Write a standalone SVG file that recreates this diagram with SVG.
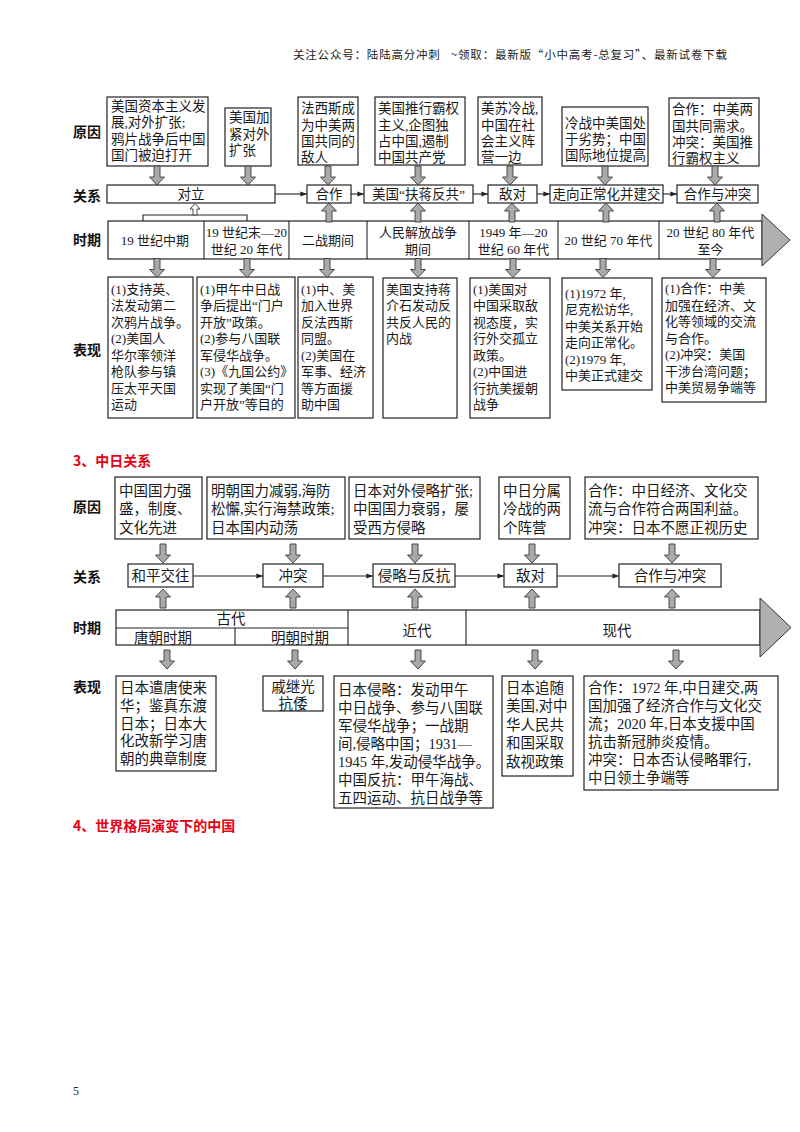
<svg xmlns="http://www.w3.org/2000/svg" width="800" height="1132" viewBox="0 0 800 1132">
<defs>
<style>
.bx{fill:#fff;stroke:#222;stroke-width:1.2}
.t{font-family:"Liberation Serif","Noto Sans CJK SC",serif;fill:#1a1a1a}
.s2{font-size:13.5px}
.s2b{font-size:13px}
.s3{font-size:14.5px}
.lb{font-family:"Noto Sans CJK SC",sans-serif;font-weight:bold;font-size:14px;fill:#111}
.ttl{font-family:"Noto Sans CJK SC",sans-serif;font-weight:bold;font-size:14px;fill:#e60012}
.ln{stroke:#222;stroke-width:1.1;fill:none}
.ba{fill:#a9a9a9;stroke:#3a3a3a;stroke-width:0.9}
.c{text-anchor:middle}
.tri{fill:#b0b0b0;stroke:#333;stroke-width:1}
</style>
<path id="dn" d="M-3,0H3V11H7.5L0,19L-7.5,11H-3Z"/>
<path id="up" d="M-3,19H3V8H7.5L0,0L-7.5,8H-3Z"/>
<marker id="ah" viewBox="0 0 8 8" refX="8" refY="4" markerWidth="6" markerHeight="6" orient="auto"><path d="M0,1L8,4L0,7Z" fill="#222"/></marker>
</defs>
<rect width="800" height="1132" fill="#fff"/>

<text x="293" y="59" font-family="Noto Sans CJK SC,sans-serif" font-size="11.5" fill="#222" textLength="434" lengthAdjust="spacing" xml:space="preserve">关注公众号：陆陆高分冲刺   ~领取：最新版“小中高考-总复习”、最新试卷下载</text>

<!-- Section 2 row labels -->
<g id="us-labels">
<text class="lb" x="73" y="137">原因</text>
<text class="lb" x="73" y="201">关系</text>
<text class="lb" x="73" y="245">时期</text>
<text class="lb" x="73" y="355">表现</text>
</g>

<!-- Section 2 causes -->
<g id="us-cause-1"><rect class="bx" x="107" y="97" width="101" height="69"/>
<text class="t s2"><tspan x="111" y="110.5">美国资本主义发</tspan><tspan x="111" y="127">展,对外扩张;</tspan><tspan x="111" y="143.5">鸦片战争后中国</tspan><tspan x="111" y="160">国门被迫打开</tspan></text></g>
<g id="us-cause-2"><rect class="bx" x="225" y="108" width="46" height="58"/>
<text class="t s2"><tspan x="229" y="122">美国加</tspan><tspan x="229" y="138.5">紧对外</tspan><tspan x="229" y="155">扩张</tspan></text></g>
<g id="us-cause-3"><rect class="bx" x="298" y="97" width="60" height="68"/>
<text class="t s2"><tspan x="301" y="113">法西斯成</tspan><tspan x="301" y="129.5">为中美两</tspan><tspan x="301" y="146">国共同的</tspan><tspan x="301" y="162">敌人</tspan></text></g>
<g id="us-cause-4"><rect class="bx" x="375" y="97" width="90" height="68"/>
<text class="t s2"><tspan x="378" y="113">美国推行霸权</tspan><tspan x="378" y="129.5">主义,企图独</tspan><tspan x="378" y="146">占中国,遏制</tspan><tspan x="378" y="162">中国共产党</tspan></text></g>
<g id="us-cause-5"><rect class="bx" x="478" y="97" width="64" height="68"/>
<text class="t s2"><tspan x="481" y="113">美苏冷战,</tspan><tspan x="481" y="129.5">中国在社</tspan><tspan x="481" y="146">会主义阵</tspan><tspan x="481" y="162">营一边</tspan></text></g>
<g id="us-cause-6"><rect class="bx" x="562" y="107" width="86" height="59"/>
<text class="t s2"><tspan x="565" y="128">冷战中美国处</tspan><tspan x="565" y="144">于劣势；中国</tspan><tspan x="565" y="160">国际地位提高</tspan></text></g>
<g id="us-cause-7"><rect class="bx" x="669" y="98" width="90" height="68"/>
<text class="t s2"><tspan x="672" y="114">合作：中美两</tspan><tspan x="672" y="130.5">国共同需求。</tspan><tspan x="672" y="147">冲突：美国推</tspan><tspan x="672" y="163">行霸权主义</tspan></text></g>

<!-- Section 2 relations -->
<g id="us-rel-1"><rect class="bx" x="107" y="185" width="168" height="18"/><text class="t s2 c" x="191" y="199">对立</text></g>
<g id="us-rel-2"><rect class="bx" x="307" y="185" width="44" height="18"/><text class="t s2 c" x="329" y="199">合作</text></g>
<g id="us-rel-3"><rect class="bx" x="364" y="185" width="109" height="18"/><text class="t s2 c" x="418.5" y="199">美国“扶蒋反共”</text></g>
<g id="us-rel-4"><rect class="bx" x="488" y="185" width="49" height="18"/><text class="t s2 c" x="512.5" y="199">敌对</text></g>
<g id="us-rel-5"><rect class="bx" x="550" y="185" width="113" height="18"/><text class="t s2 c" x="606.5" y="199">走向正常化并建交</text></g>
<g id="us-rel-6"><rect class="bx" x="677" y="185" width="81" height="18"/><text class="t s2 c" x="717.5" y="199">合作与冲突</text></g>

<!-- Section 2 timeline -->
<g id="us-timeline">
<rect class="bx" x="108" y="221" width="654" height="38"/>
<polygon class="tri" points="762,214 790,240 762,266"/>
<path class="ln" d="M204,221V259M289,221V259M367,221V259M469,221V259M558,221V259M659,221V259"/>
<text class="t s2b c" x="155" y="244.5">19 世纪中期</text>
<text class="t s2b c"><tspan x="246.5" y="236.5">19 世纪末—20</tspan><tspan x="246.5" y="253.5">世纪 20 年代</tspan></text>
<text class="t s2b c" x="328" y="244.5">二战期间</text>
<text class="t s2b c"><tspan x="418" y="236.5">人民解放战争</tspan><tspan x="418" y="253.5">期间</tspan></text>
<text class="t s2b c"><tspan x="513.5" y="236.5">1949 年—20</tspan><tspan x="513.5" y="253.5">世纪 60 年代</tspan></text>
<text class="t s2b c" x="608.5" y="244.5">20 世纪 70 年代</text>
<text class="t s2b c"><tspan x="710.5" y="236.5">20 世纪 80 年代</tspan><tspan x="710.5" y="253.5">至今</tspan></text>
</g>

<!-- Section 2 manifestations -->
<g id="us-show-1"><rect class="bx" x="108" y="277" width="85" height="141"/>
<text class="t s2b"><tspan x="111" y="293.5">(1)支持英、</tspan><tspan x="111" y="310">法发动第二</tspan><tspan x="111" y="326.5">次鸦片战争。</tspan><tspan x="111" y="343">(2)美国人</tspan><tspan x="111" y="359.5">华尔率领洋</tspan><tspan x="111" y="376">枪队参与镇</tspan><tspan x="111" y="392.5">压太平天国</tspan><tspan x="111" y="409">运动</tspan></text></g>
<g id="us-show-2"><rect class="bx" x="197" y="277" width="98" height="141"/>
<text class="t s2b"><tspan x="200" y="293.5">(1)甲午中日战</tspan><tspan x="200" y="310">争后提出“门户</tspan><tspan x="200" y="326.5">开放”政策。</tspan><tspan x="200" y="343">(2)参与八国联</tspan><tspan x="200" y="359.5">军侵华战争。</tspan><tspan x="200" y="376">(3)《九国公约》</tspan><tspan x="200" y="392.5">实现了美国“门</tspan><tspan x="200" y="409">户开放”等目的</tspan></text></g>
<g id="us-show-3"><rect class="bx" x="298" y="277" width="75" height="141"/>
<text class="t s2b"><tspan x="301" y="293.5">(1)中、美</tspan><tspan x="301" y="310">加入世界</tspan><tspan x="301" y="326.5">反法西斯</tspan><tspan x="301" y="343">同盟。</tspan><tspan x="301" y="359.5">(2)美国在</tspan><tspan x="301" y="376">军事、经济</tspan><tspan x="301" y="392.5">等方面援</tspan><tspan x="301" y="409">助中国</tspan></text></g>
<g id="us-show-4"><rect class="bx" x="383" y="278" width="74" height="140"/>
<text class="t s2b"><tspan x="386" y="293.5">美国支持蒋</tspan><tspan x="386" y="310">介石发动反</tspan><tspan x="386" y="326.5">共反人民的</tspan><tspan x="386" y="343">内战</tspan></text></g>
<g id="us-show-5"><rect class="bx" x="470" y="278" width="80" height="140"/>
<text class="t s2b"><tspan x="473" y="293.5">(1)美国对</tspan><tspan x="473" y="310">中国采取敌</tspan><tspan x="473" y="326.5">视态度，实</tspan><tspan x="473" y="343">行外交孤立</tspan><tspan x="473" y="359.5">政策。</tspan><tspan x="473" y="376">(2)中国进</tspan><tspan x="473" y="392.5">行抗美援朝</tspan><tspan x="473" y="409">战争</tspan></text></g>
<g id="us-show-6"><rect class="bx" x="562" y="278" width="90" height="112"/>
<text class="t s2b"><tspan x="565" y="297.5">(1)1972 年,</tspan><tspan x="565" y="314">尼克松访华,</tspan><tspan x="565" y="330.5">中美关系开始</tspan><tspan x="565" y="347">走向正常化。</tspan><tspan x="565" y="363.5">(2)1979 年,</tspan><tspan x="565" y="380">中美正式建交</tspan></text></g>
<g id="us-show-7"><rect class="bx" x="662" y="278" width="104" height="124"/>
<text class="t s2b"><tspan x="665" y="293">(1)合作：中美</tspan><tspan x="665" y="309.5">加强在经济、文</tspan><tspan x="665" y="326">化等领域的交流</tspan><tspan x="665" y="342.5">与合作。</tspan><tspan x="665" y="359">(2)冲突：美国</tspan><tspan x="665" y="375.5">干涉台湾问题；</tspan><tspan x="665" y="392">中美贸易争端等</tspan></text></g>

<!-- Section 2 connectors -->
<g id="us-connectors">
<g class="ba">
<use href="#dn" x="157" y="166"/><use href="#dn" x="248" y="166"/><use href="#dn" x="328" y="166"/><use href="#dn" x="418" y="166"/><use href="#dn" x="510" y="166"/><use href="#dn" x="605" y="166"/><use href="#dn" x="715" y="166"/>
<use href="#up" x="329" y="203"/><use href="#up" x="418" y="203"/><use href="#up" x="512" y="203"/><use href="#up" x="606" y="203"/><use href="#up" x="717" y="203"/>
<use href="#dn" x="157" y="258.5"/><use href="#dn" x="247" y="258.5"/><use href="#dn" x="327" y="258.5"/><use href="#dn" x="418" y="258.5"/><use href="#dn" x="513" y="258.5"/><use href="#dn" x="603" y="258.5"/><use href="#dn" x="713" y="258.5"/>
</g>
<path class="ln" d="M143,221V215H247V221"/>
<path d="M193,215V209H190L195,203.5L200,209H197V215Z" fill="#fff" stroke="#333" stroke-width="0.9"/>
<path class="ln" marker-end="url(#ah)" d="M275,194H307"/>
<path class="ln" marker-end="url(#ah)" d="M351,194H364"/>
<path class="ln" marker-end="url(#ah)" d="M473,194H488"/>
<path class="ln" marker-end="url(#ah)" d="M537,194H550"/>
<path class="ln" marker-end="url(#ah)" d="M663,194H677"/>
</g>

<!-- Section 3 -->
<text class="ttl" x="73" y="466">3、中日关系</text>
<g id="jp-labels">
<text class="lb" x="73" y="512">原因</text>
<text class="lb" x="73" y="582">关系</text>
<text class="lb" x="73" y="633">时期</text>
<text class="lb" x="73" y="692">表现</text>
</g>

<g id="jp-cause-1"><rect class="bx" x="115" y="477" width="87" height="62"/>
<text class="t s3"><tspan x="119" y="495.5">中国国力强</tspan><tspan x="119" y="514">盛，制度、</tspan><tspan x="119" y="532.5">文化先进</tspan></text></g>
<g id="jp-cause-2"><rect class="bx" x="207" y="477" width="138" height="62"/>
<text class="t s3"><tspan x="211" y="495.5">明朝国力减弱,海防</tspan><tspan x="211" y="514">松懈,实行海禁政策;</tspan><tspan x="211" y="532.5">日本国内动荡</tspan></text></g>
<g id="jp-cause-3"><rect class="bx" x="349" y="477" width="131" height="62"/>
<text class="t s3"><tspan x="353" y="495.5">日本对外侵略扩张;</tspan><tspan x="353" y="514">中国国力衰弱，屡</tspan><tspan x="353" y="532.5">受西方侵略</tspan></text></g>
<g id="jp-cause-4"><rect class="bx" x="499" y="477" width="71" height="62"/>
<text class="t s3"><tspan x="503" y="495.5">中日分属</tspan><tspan x="503" y="514">冷战的两</tspan><tspan x="503" y="532.5">个阵营</tspan></text></g>
<g id="jp-cause-5"><rect class="bx" x="585" y="477" width="173" height="62"/>
<text class="t s3"><tspan x="588" y="495.5">合作：中日经济、文化交</tspan><tspan x="588" y="514">流与合作符合两国利益。</tspan><tspan x="588" y="532.5">冲突：日本不愿正视历史</tspan></text></g>

<g id="jp-rel-1"><rect class="bx" x="128" y="564" width="65" height="23"/><text class="t s3 c" x="160.5" y="581">和平交往</text></g>
<g id="jp-rel-2"><rect class="bx" x="263" y="564" width="60" height="23"/><text class="t s3 c" x="293" y="581">冲突</text></g>
<g id="jp-rel-3"><rect class="bx" x="373" y="564" width="82" height="23"/><text class="t s3 c" x="414" y="581">侵略与反抗</text></g>
<g id="jp-rel-4"><rect class="bx" x="504" y="564" width="53" height="23"/><text class="t s3 c" x="530.5" y="581">敌对</text></g>
<g id="jp-rel-5"><rect class="bx" x="619" y="564" width="102" height="23"/><text class="t s3 c" x="670" y="581">合作与冲突</text></g>

<g id="jp-timeline">
<rect class="bx" x="116" y="610" width="644" height="35"/>
<polygon class="tri" points="760,598 791,627.5 760,657"/>
<path class="ln" d="M348,610V645M466,610V645M116,628H348M235,628V645"/>
<text class="t s3 c" x="231" y="624">古代</text>
<text class="t s3 c" x="163" y="643">唐朝时期</text>
<text class="t s3 c" x="300" y="643">明朝时期</text>
<text class="t s3 c" x="417" y="636">近代</text>
<text class="t s3 c" x="617" y="636">现代</text>
</g>

<g id="jp-show-1"><rect class="bx" x="116" y="676" width="100" height="95"/>
<text class="t s3"><tspan x="120" y="692.5">日本遣唐使来</tspan><tspan x="120" y="710.5">华；鉴真东渡</tspan><tspan x="120" y="728.5">日本；日本大</tspan><tspan x="120" y="746">化改新学习唐</tspan><tspan x="120" y="763.5">朝的典章制度</tspan></text></g>
<g id="jp-show-2"><rect class="bx" x="263" y="676" width="60" height="35"/>
<text class="t s3 c"><tspan x="293" y="691.5">戚继光</tspan><tspan x="293" y="708.5">抗倭</tspan></text></g>
<g id="jp-show-3"><rect class="bx" x="334" y="676" width="159" height="132"/>
<text class="t s3"><tspan x="338" y="694.5">日本侵略：发动甲午</tspan><tspan x="338" y="712.5">中日战争、参与八国联</tspan><tspan x="338" y="730.5">军侵华战争；一战期</tspan><tspan x="338" y="748.5">间,侵略中国；1931—</tspan><tspan x="338" y="766.5">1945 年,发动侵华战争。</tspan><tspan x="338" y="784.5">中国反抗：甲午海战、</tspan><tspan x="338" y="802.5">五四运动、抗日战争等</tspan></text></g>
<g id="jp-show-4"><rect class="bx" x="502" y="676" width="71" height="100"/>
<text class="t s3"><tspan x="506" y="692.5">日本追随</tspan><tspan x="506" y="711">美国,对中</tspan><tspan x="506" y="729.5">华人民共</tspan><tspan x="506" y="748">和国采取</tspan><tspan x="506" y="766.5">敌视政策</tspan></text></g>
<g id="jp-show-5"><rect class="bx" x="584" y="676" width="194" height="114"/>
<text class="t s3"><tspan x="588" y="692.5">合作：1972 年,中日建交,两</tspan><tspan x="588" y="710.5">国加强了经济合作与文化交</tspan><tspan x="588" y="728.5">流；2020 年,日本支援中国</tspan><tspan x="588" y="746.5">抗击新冠肺炎疫情。</tspan><tspan x="588" y="764.5">冲突：日本否认侵略罪行,</tspan><tspan x="588" y="782.5">中日领土争端等</tspan></text></g>

<g id="jp-connectors">
<g class="ba">
<use href="#dn" x="163" y="544"/><use href="#dn" x="293" y="544"/><use href="#dn" x="415" y="544"/><use href="#dn" x="532" y="544"/><use href="#dn" x="672" y="544"/>
<use href="#up" x="163" y="589"/><use href="#up" x="293" y="589"/><use href="#up" x="415" y="589"/><use href="#up" x="532" y="589"/><use href="#up" x="672" y="589"/>
<use href="#dn" x="167" y="650"/><use href="#dn" x="295" y="650"/><use href="#dn" x="418" y="650"/><use href="#dn" x="535" y="650"/><use href="#dn" x="676" y="650"/>
</g>
<path class="ln" marker-end="url(#ah)" d="M193,576H263"/>
<path class="ln" marker-end="url(#ah)" d="M323,576H373"/>
<path class="ln" marker-end="url(#ah)" d="M455,576H504"/>
<path class="ln" marker-end="url(#ah)" d="M557,576H619"/>
</g>

<text class="ttl" x="73" y="831">4、世界格局演变下的中国</text>
<text x="73" y="1095" font-family="Liberation Serif,serif" font-size="12" fill="#222">5</text>
</svg>
